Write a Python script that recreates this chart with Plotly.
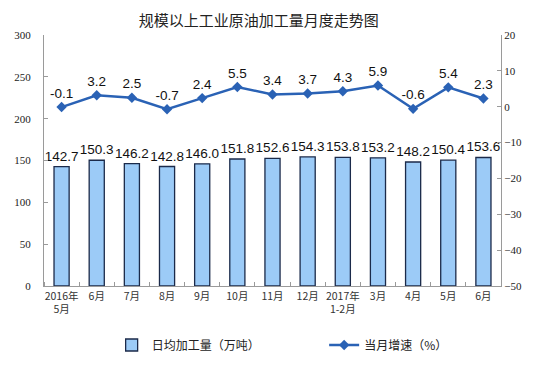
import plotly.graph_objects as go

months = ["2016年<br>5月", "6月", "7月", "8月", "9月", "10月", "11月", "12月",
          "2017年<br>1-2月", "3月", "4月", "5月", "6月"]
daily_output = [142.7, 150.3, 146.2, 142.8, 146.0, 151.8, 152.6, 154.3, 153.8, 153.2, 148.2, 150.4, 153.6]
growth = [-0.1, 3.2, 2.5, -0.7, 2.4, 5.5, 3.4, 3.7, 4.3, 5.9, -0.6, 5.4, 2.3]
left_ticks = [0, 50, 100, 150, 200, 250, 300]
right_ticks = [-50, -40, -30, -20, -10, 0, 10, 20]

x = list(range(len(months)))
num_font = "Liberation Serif"
cjk = "Noto Sans CJK SC"

fig = go.Figure()
fig.add_trace(go.Bar(
    x=x, y=daily_output, name="日均加工量（万吨）",
    marker=dict(color="#9CCBF7", line=dict(color="#1B2A4A", width=1.3)),
    width=0.43,
    text=[f"{v:.1f}" for v in daily_output], textposition="outside",
    constraintext="none",
    textfont=dict(family="Liberation Sans", size=13.5, color="#111"),
    cliponaxis=False, legend="legend", showlegend=True,
))
fig.add_trace(go.Scatter(
    x=x, y=growth, name="当月增速（%）", yaxis="y2", mode="lines+markers+text",
    line=dict(color="#2A62B5", width=2.5),
    marker=dict(symbol="diamond", size=8, color="#2A62B5"),
    text=[f"{v:.1f}" for v in growth], textposition="top center",
    textfont=dict(family="Liberation Sans", size=13.5, color="#111"),
    cliponaxis=False, legend="legend2", showlegend=True,
))

fig.update_layout(
    width=551, height=359,
    margin=dict(l=36, r=58, t=27, b=81, autoexpand=False),
    paper_bgcolor="white", plot_bgcolor="white",
    title=dict(text="规模以上工业原油加工量月度走势图", x=0.455, xanchor="center",
               y=0.965, yanchor="middle",
               font=dict(family=cjk, size=15, color="#222")),
    xaxis=dict(range=[-0.5, 12.5], tickvals=x, ticktext=months,
               showline=True, linecolor="#9a9a9a", linewidth=1,
               ticks="", showgrid=False, zeroline=False,
               tickfont=dict(family=cjk, size=10.5, color="#333"),
               minor=dict(tick0=-0.5, dtick=1, ticks="inside", ticklen=4,
                          tickcolor="#9a9a9a", showgrid=False)),
    yaxis=dict(range=[0, 300], tickvals=left_ticks, showline=True,
               linecolor="#9a9a9a", ticks="inside", ticklen=4, tickcolor="#9a9a9a",
               showgrid=False, zeroline=False, ticklabelstandoff=10,
               tickfont=dict(family=num_font, size=11, color="#222")),
    yaxis2=dict(range=[-50, 20], tickvals=right_ticks, overlaying="y", side="right",
                showline=True, linecolor="#9a9a9a", ticks="inside", ticklen=4,
                tickcolor="#9a9a9a", showgrid=False, zeroline=False,
                tickfont=dict(family=num_font, size=11, color="#222")),
    legend=dict(x=0.148, y=-0.235, xanchor="left", yanchor="middle",
                orientation="h", font=dict(family=cjk, size=12, color="#222"),
                bgcolor="rgba(0,0,0,0)"),
    legend2=dict(x=0.613, y=-0.235, xanchor="left", yanchor="middle",
                 orientation="h", font=dict(family=cjk, size=12, color="#222"),
                 bgcolor="rgba(0,0,0,0)"),
    bargap=0.5,
)

fig.write_html("out.html")
